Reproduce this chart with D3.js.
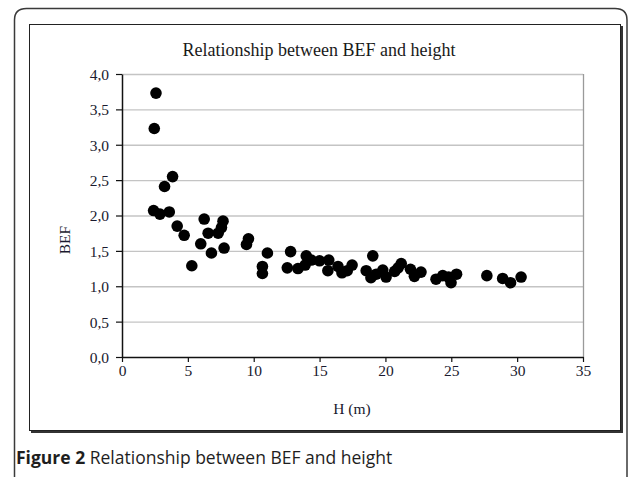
<!DOCTYPE html>
<html>
<head>
<meta charset="utf-8">
<script src="https://cdn.jsdelivr.net/npm/d3@7"></script>
<style>
  html, body { margin: 0; padding: 0; background: #fff; }
  svg { display: block; }
</style>
</head>
<body>
<script>
// ---- Data ----
const heightH = [2.58, 2.45, 3.23, 3.84, 2.40, 2.88, 3.59, 4.19, 4.72, 6.24, 6.54, 5.98, 6.79, 7.30, 7.55, 7.67, 7.75, 5.30,
  9.45, 9.60, 10.66, 10.66, 11.04, 12.55, 12.80, 13.36, 13.90, 13.99, 14.37, 15.00, 15.70, 15.63, 16.40, 16.70, 17.10, 17.47,
  18.54, 18.90, 19.04, 19.30, 19.80, 20.05, 20.70, 20.96, 21.20, 21.90, 22.20, 22.70, 23.84, 24.35, 24.80, 24.98, 25.40,
  27.70, 28.90, 29.50, 30.30];
const befValues = [3.73, 3.23, 2.41, 2.55, 2.07, 2.02, 2.05, 1.85, 1.72, 1.95, 1.75, 1.60, 1.47, 1.75, 1.83, 1.92, 1.54, 1.29,
  1.59, 1.67, 1.28, 1.18, 1.47, 1.26, 1.49, 1.25, 1.30, 1.43, 1.37, 1.36, 1.37, 1.22, 1.28, 1.19, 1.22, 1.30,
  1.22, 1.12, 1.43, 1.17, 1.23, 1.13, 1.21, 1.26, 1.32, 1.24, 1.14, 1.20, 1.10, 1.15, 1.13, 1.05, 1.17,
  1.15, 1.11, 1.05, 1.13];
const xTicks = [0, 5, 10, 15, 20, 25, 30, 35];
const yTicks = [0, 0.5, 1.0, 1.5, 2.0, 2.5, 3.0, 3.5, 4.0];
const chartTitle = "Relationship between BEF and height";
const xLabel = "H (m)";
const yLabel = "BEF";
const captionBold = "Figure 2";
const captionRest = " Relationship between BEF and height";

const W = 634, H = 477;
const svg = d3.select("body").append("svg").attr("width", W).attr("height", H);

// outer card
svg.append("path")
  .attr("d", "M14.5,480 L14.5,20 Q14.5,8.5 26.5,8.5 L615,8.5 Q627,8.5 627,20 L627,480")
  .attr("fill", "none").attr("stroke", "#3a3a3a").attr("stroke-width", 1.5);

// inner chart box with shadow
svg.append("rect").attr("x", 31).attr("y", 26).attr("width", 592).attr("height", 407).attr("fill", "#333");
svg.append("rect").attr("x", 29.5).attr("y", 24.5).attr("width", 591).attr("height", 406)
  .attr("fill", "#fff").attr("stroke", "#222").attr("stroke-width", 1);

const m = { left: 122, right: 583, top: 74, bottom: 357 };
const x = d3.scaleLinear().domain([0, 35]).range([m.left, m.right]);
const y = d3.scaleLinear().domain([0, 4]).range([m.bottom, m.top]);

// gridlines
svg.append("g").selectAll("line").data(yTicks.filter(d => d > 0)).join("line")
  .attr("x1", m.left).attr("x2", m.right)
  .attr("y1", d => y(d) + 0.5).attr("y2", d => y(d) + 0.5)
  .attr("stroke", "#c4c4c4").attr("stroke-width", 1.3);
// right border of plot area
svg.append("line").attr("x1", m.right + 0.5).attr("x2", m.right + 0.5)
  .attr("y1", m.top).attr("y2", m.bottom).attr("stroke", "#9a9a9a").attr("stroke-width", 1.3);

const fmt = d => d3.format(".1f")(d).replace(".", ",");

const yAxis = svg.append("g").attr("transform", `translate(${m.left},0)`)
  .call(d3.axisLeft(y).tickValues(yTicks).tickFormat(fmt).tickSize(6).tickSizeOuter(0));
yAxis.select(".domain").attr("stroke", "#111").attr("stroke-width", 1.5);
yAxis.selectAll(".tick line").attr("stroke", "#111").attr("stroke-width", 1.2);
yAxis.selectAll(".tick text").attr("x", -13).attr("dy", "0.35em")
  .attr("font-family", "Liberation Serif, serif").attr("font-size", 15.5).attr("fill", "#1a1a2e");

const xAxis = svg.append("g").attr("transform", `translate(0,${m.bottom})`)
  .call(d3.axisBottom(x).tickValues(xTicks).tickFormat(d3.format("d")).tickSize(5).tickSizeOuter(0));
xAxis.select(".domain").attr("stroke", "#111").attr("stroke-width", 1.5);
xAxis.selectAll(".tick line").attr("stroke", "#111").attr("stroke-width", 1.2);
xAxis.selectAll(".tick text").attr("y", 8).attr("dy", "0.71em")
  .attr("font-family", "Liberation Serif, serif").attr("font-size", 15.5).attr("fill", "#1a1a2e");

// points
svg.append("g").selectAll("circle").data(heightH.map((h, i) => [h, befValues[i]])).join("circle")
  .attr("cx", d => x(d[0])).attr("cy", d => y(d[1])).attr("r", 5.8).attr("fill", "#000");

// title & axis labels
svg.append("text").attr("x", 319).attr("y", 56).attr("text-anchor", "middle")
  .attr("font-family", "Liberation Serif, serif").attr("font-size", 18).attr("fill", "#1a1a1a").text(chartTitle);
svg.append("text").attr("x", 352).attr("y", 414).attr("text-anchor", "middle")
  .attr("font-family", "Liberation Serif, serif").attr("font-size", 15.5).attr("fill", "#1a1a2e").text(xLabel);
svg.append("text").attr("transform", "translate(70,240) rotate(-90)").attr("text-anchor", "middle")
  .attr("font-family", "Liberation Serif, serif").attr("font-size", 15.5).attr("fill", "#1a1a2e").text(yLabel);

// caption
const cap = svg.append("text").attr("x", 16).attr("y", 464)
  .attr("font-family", "Open Sans, sans-serif").attr("font-size", 17.5).attr("fill", "#1e1e1e");
cap.append("tspan").attr("font-weight", "bold").text(captionBold);
cap.append("tspan").text(captionRest);
</script>
</body>
</html>
